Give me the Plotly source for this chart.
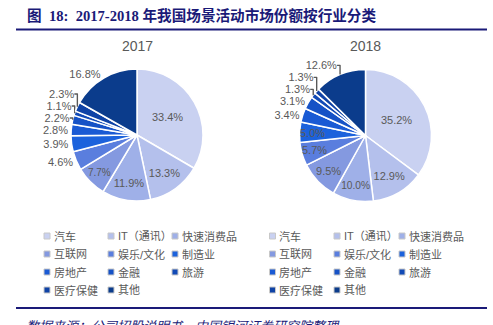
import math
import plotly.graph_objects as go

categories = ["汽车", "IT（通讯）", "快速消费品", "互联网", "娱乐/文化", "制造业",
              "房地产", "金融", "旅游", "医疗保健", "其他"]
values_2017 = [33.4, 13.3, 11.9, 7.7, 4.6, 3.9, 2.8, 2.2, 1.1, 2.3, 16.8]
values_2018 = [35.2, 12.9, 10.0, 9.5, 5.7, 5.0, 3.4, 3.1, 1.3, 1.3, 12.6]
colors = ["#c9d1f1", "#b4c0ec", "#9fb0e8", "#8499e0", "#5a7ede", "#1c62dc",
          "#1a5ad4", "#1652c6", "#124ab6", "#0f43a6", "#0b3c8c"]
years = ["2017", "2018"]

W, H = 493, 325
FONT = "Liberation Sans, Noto Sans CJK SC, sans-serif"
GRAY = "#595959"
NAVY = "#1a1a78"


def px(x0, y0, x1, y1):
    return dict(x=[x0 / W, x1 / W], y=[1 - y1 / H, 1 - y0 / H])


annotations = []
shapes = []

fig = go.Figure()
pie_specs = [
    (values_2017, (137, 135, 66), ["inside"] * 4 + ["outside"] * 7),
    (values_2018, (365.5, 135.5, 66),
     ["inside"] * 4 + ["none"] * 2 + ["outside"] * 5),
]
for vals, (cx, cy, r), tpos in pie_specs:
    fig.add_trace(go.Pie(
        labels=categories, values=vals, sort=False, direction="clockwise",
        rotation=0, domain=px(cx - r, cy - r, cx + r, cy + r),
        marker=dict(colors=colors, line=dict(color="white", width=1.5)),
        texttemplate="%{value:.1f}%", textposition=tpos,
        insidetextorientation="horizontal",
        textfont=dict(family=FONT, size=11, color=GRAY),
        showlegend=False, hoverinfo="label+value",
    ))
    # labels for narrow slices (full-size, horizontal, placed from the data's angles)
    total = sum(vals)
    cum = 0.0
    for v, tp in zip(vals, tpos):
        mid = (cum + v / 2) / total * 2 * math.pi
        cum += v
        if tp != "none":
            continue
        lx = cx + 0.8 * r * math.sin(mid)
        ly = cy - 0.8 * r * math.cos(mid)
        annotations.append(dict(x=lx / W, y=1 - ly / H, xref="paper", yref="paper",
                                text=f"{v:.1f}%", showarrow=False,
                                xanchor="center", yanchor="middle",
                                font=dict(family=FONT, size=11, color=GRAY)))

# Title
annotations.append(dict(
    x=25 / W, y=1 - 15 / H, xref="paper", yref="paper", xanchor="left", yanchor="middle",
    text="<b>图  18:  2017-2018 年我国场景活动市场份额按行业分类</b>", showarrow=False,
    font=dict(family="Liberation Serif, Noto Sans CJK SC, serif", size=14.6, color=NAVY)))
# Rules
for yy in (29.5, 308):
    shapes.append(dict(type="line", xref="paper", yref="paper", x0=16 / W, x1=487 / W,
                       y0=1 - yy / H, y1=1 - yy / H, line=dict(color=NAVY, width=2.2)))
# Pie titles
for yr, cx in zip(years, (137, 365.5)):
    annotations.append(dict(x=cx / W, y=1 - 46 / H, xref="paper", yref="paper",
                            text=yr, showarrow=False, xanchor="center", yanchor="middle",
                            font=dict(family=FONT, size=14, color=GRAY)))

# Legends
row_y = [236, 254, 272, 290]
col_sets = [[47, 111, 175], [272.5, 337, 402]]
for cols in col_sets:
    for i, (cat, col) in enumerate(zip(categories, colors)):
        r, c = divmod(i, 3)
        mx, my = cols[c], row_y[r]
        shapes.append(dict(type="rect", xref="paper", yref="paper",
                           x0=(mx - 3) / W, x1=(mx + 3) / W,
                           y0=1 - (my + 3) / H, y1=1 - (my - 3) / H,
                           fillcolor=col, line=dict(color="#c8c8c8", width=1)))
        annotations.append(dict(x=(mx + 4.5) / W, y=1 - my / H, xref="paper", yref="paper",
                                text=cat, showarrow=False, xanchor="left", yanchor="middle",
                                font=dict(family=FONT, size=11, color=GRAY)))

# Footer
annotations.append(dict(
    x=24 / W, y=1 - 314 / H, xref="paper", yref="paper", xanchor="left", yanchor="top",
    text="<i>数据来源：公司招股说明书，中国银河证券研究院整理</i>", showarrow=False,
    font=dict(family="Noto Sans CJK SC, sans-serif", size=13, color=NAVY)))

fig.update_layout(width=W, height=H, margin=dict(l=0, r=0, t=0, b=0),
                  paper_bgcolor="white", plot_bgcolor="white",
                  annotations=annotations, shapes=shapes)
fig.write_html("out.html")
